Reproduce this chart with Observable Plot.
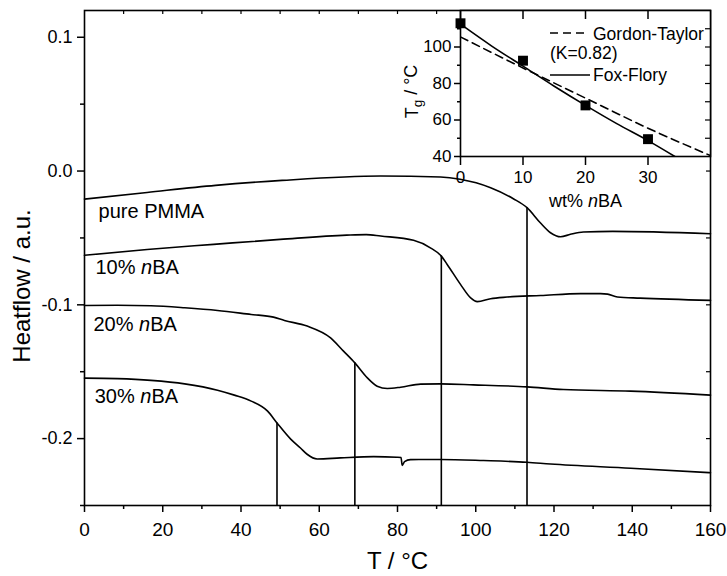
<!DOCTYPE html>
<html><head><meta charset="utf-8">
<script src="https://cdn.jsdelivr.net/npm/d3@7"></script>
<script src="https://cdn.jsdelivr.net/npm/@observablehq/plot@0.6"></script>
<style>
body{margin:0;background:#fff}
#wrap{position:relative;width:727px;height:576px;background:#fff}
#wrap svg{position:absolute;overflow:visible}
</style></head><body><div id="wrap"></div>
<script>
// ---------- main chart data (T in °C, heat flow in a.u.) ----------
const pmmaT = [0, 16, 33.5, 50.5, 75.7, 91, 96, 103.8, 109.6, 113.1, 116.5, 119.1, 121.7, 124.2, 127.5, 135, 160];
const pmmaH = [-0.021, -0.016, -0.0107, -0.007, -0.0037, -0.0045, -0.0062, -0.0125, -0.0207, -0.0274, -0.0387, -0.0461, -0.0491, -0.0473, -0.0456, -0.0451, -0.0469];

const nba10T = [0, 16, 33, 50, 67, 72, 75.7, 84.1, 88.4, 91.2, 92.7, 96.1, 98.7, 100.4, 103.8, 108, 116.6, 126.8, 131.9, 133.7, 136.2, 142, 160];
const nba10H = [-0.063, -0.0586, -0.0548, -0.0511, -0.0479, -0.0475, -0.0486, -0.0518, -0.0574, -0.0636, -0.0698, -0.0847, -0.0948, -0.0976, -0.0954, -0.0942, -0.093, -0.0916, -0.0916, -0.092, -0.0942, -0.095, -0.0967];

const nba20T = [0, 8.4, 17, 25.6, 34, 42.6, 48.3, 51.1, 56.9, 62.9, 66.2, 69.1, 72.3, 74.8, 77.4, 80.8, 85.9, 91, 99.4, 113.1, 122.4, 139.6, 160];
const nba20H = [-0.1005, -0.1003, -0.1007, -0.1022, -0.1042, -0.1072, -0.1092, -0.1117, -0.1159, -0.1247, -0.1346, -0.1434, -0.1546, -0.1608, -0.1625, -0.1616, -0.1593, -0.1591, -0.1598, -0.1613, -0.1633, -0.1645, -0.1675];

const nba30T = [0, 8.4, 17, 25.6, 34, 38.3, 42.6, 46.8, 49.2, 52.7, 55.2, 56.9, 59.5, 65.4, 73.9, 79.9, 80.9, 81.2, 81.8, 83.3, 91, 102, 113.1, 119.1, 139.6, 160];
const nba30H = [-0.1548, -0.1552, -0.1565, -0.1591, -0.1638, -0.1675, -0.172, -0.1795, -0.1883, -0.2004, -0.207, -0.2117, -0.2152, -0.2144, -0.2135, -0.2139, -0.2141, -0.22, -0.2172, -0.2157, -0.2156, -0.2164, -0.2177, -0.219, -0.2221, -0.2255];

const seriesNames = ["pure PMMA", "10% nBA", "20% nBA", "30% nBA"];
const labelT = [3.6, 2.8, 2.3, 2.6];
const labelH = [-0.030, -0.0725, -0.1147, -0.1687];

// glass transition markers
const tgT = [49.2, 69.1, 91.2, 113.1];
const tgTop = [-0.1883, -0.1434, -0.0636, -0.0274];

// ticks
const xMajor = [0, 20, 40, 60, 80, 100, 120, 140, 160];
const xMinor = [10, 30, 50, 70, 90, 110, 130, 150];
const xTop = [10, 20, 30, 40, 50, 60, 70, 80, 90, 100, 110, 120, 130, 140, 150];
const yMajor = [-0.2, -0.1, 0.0, 0.1];
const yMinor = [-0.25, -0.15, -0.05, 0.05];
const yRight = [-0.2, -0.15, -0.1, -0.05, 0.0, 0.05, 0.1];

// ---------- inset data (Tg vs wt% nBA) ----------
const expWt = [0, 10, 20, 30];
const expTg = [113, 92.5, 68, 49.5];
const ffWt = [0, 5, 10, 15, 20, 25, 30, 34.3];
const ffTg = [112.5, 100.5, 89.5, 78.5, 68, 58, 48.7, 40];
const gtWt = [0, 10, 20, 30, 40];
const gtTg = [105.5, 88.5, 72, 55.5, 40.5];
const insetXTicks = [0, 10, 20, 30];
const insetYTicks = [40, 60, 80, 100];
const insetYMinor = [50, 70, 90, 110];
const insetYRight = [50, 60, 70, 80, 90, 100, 110];

const FONT = "'Liberation Sans', Arial, Helvetica, sans-serif";
const W = 727, H = 576, ML = 84, MR = 17, MT = 10, MB = 71;
const yDom = [-0.25, 0.12];

const Ts = [pmmaT, nba10T, nba20T, nba30T];
const Hs = [pmmaH, nba10H, nba20H, nba30H];
const curveRows = seriesNames.flatMap((n, k) => Ts[k].map((t, i) => ({series: n, T: t, H: Hs[k][i]})));
const tgRows = tgT.map((t, i) => ({T: t, top: tgTop[i]}));
const labelRows = seriesNames.map((n, i) => ({text: n, T: labelT[i], H: labelH[i]}));

const main = Plot.plot({
  width: W, height: H,
  marginLeft: ML, marginRight: MR, marginTop: MT, marginBottom: MB,
  style: {fontFamily: FONT, fontSize: "18px", color: "#000", background: "transparent"},
  x: {domain: [0, 160]},
  y: {domain: yDom},
  marks: [
    Plot.axisX({ticks: xMajor, tickSize: 7, tickPadding: 10, tickFormat: d => String(d), label: null, fontSize: 19, strokeWidth: 1.5}),
    Plot.axisX({ticks: xMinor, tickSize: 4, tickFormat: () => "", label: null, strokeWidth: 1.5}),
    Plot.axisY({ticks: yMajor, tickSize: 7, tickPadding: 5, tickFormat: d => d.toFixed(1), label: null, fontSize: 18, strokeWidth: 1.5}),
    Plot.axisY({ticks: yMinor, tickSize: 4, tickFormat: () => "", label: null, strokeWidth: 1.5}),
    Plot.tickX(xTop, {x: d => d, insetBottom: (H - MT - MB) - 4, strokeWidth: 1.2}),
    Plot.tickY(yRight, {y: d => d, insetLeft: (W - ML - MR) - 4, strokeWidth: 1.2}),
    Plot.ruleX(tgRows, {x: "T", y1: () => yDom[0], y2: "top", stroke: "#000", strokeWidth: 1.6}),
    Plot.line(curveRows, {x: "T", y: "H", z: "series", curve: "monotone-x", stroke: "#000", strokeWidth: 1.6}),
    Plot.text(labelRows, {x: "T", y: "H", text: "text", textAnchor: "start", fontSize: 20}),
    Plot.text(["T / °C"], {frameAnchor: "bottom", dy: 63, fontSize: 24}),
    Plot.text(["Heatflow / a.u."], {frameAnchor: "left", textAnchor: "middle", rotate: -90, dx: -62, dy: 28, fontSize: 24}),
    Plot.frame({stroke: "#000", strokeWidth: 1.6})
  ]
});
main.style.left = "0px"; main.style.top = "0px";

const IW = 317, IH = 215, IML = 50, IMR = 17, IMT = 10, IMB = 59;
const expRows = expWt.map((w, i) => ({w, tg: expTg[i]}));
const ffRows = ffWt.map((w, i) => ({w, tg: ffTg[i]}));
const gtRows = gtWt.map((w, i) => ({w, tg: gtTg[i]}));

const inset = Plot.plot({
  width: IW, height: IH,
  marginLeft: IML, marginRight: IMR, marginTop: IMT, marginBottom: IMB,
  style: {fontFamily: FONT, fontSize: "17px", color: "#000", background: "transparent"},
  x: {domain: [0, 40]},
  y: {domain: [40, 120]},
  marks: [
    Plot.frame({fill: "#fff", stroke: "none"}),
    Plot.axisX({ticks: insetXTicks, tickSize: 9, tickPadding: 5, tickFormat: d => String(d), label: null, fontSize: 17, strokeWidth: 1.5}),
    Plot.axisY({ticks: insetYTicks, tickSize: 6, tickPadding: 3, tickFormat: d => String(d), label: null, fontSize: 17, strokeWidth: 1.5}),
    Plot.axisY({ticks: insetYMinor, tickSize: 3, tickFormat: () => "", label: null, strokeWidth: 1.5}),
    Plot.tickX(insetXTicks, {x: d => d, insetBottom: (IH - IMT - IMB) - 9, strokeWidth: 1.5}),
    Plot.tickY(insetYRight, {y: d => d, insetLeft: (IW - IML - IMR) - 5, strokeWidth: 1.2}),
    Plot.line(gtRows, {x: "w", y: "tg", curve: "monotone-x", stroke: "#000", strokeWidth: 1.6, strokeDasharray: "8,5", clip: true}),
    Plot.line(ffRows, {x: "w", y: "tg", curve: "monotone-x", stroke: "#000", strokeWidth: 1.6, clip: true}),
    Plot.dot(expRows, {x: "w", y: "tg", symbol: "square", r: 5.6, fill: "#000", stroke: "none"}),
    Plot.text(["wt% nBA"], {frameAnchor: "bottom", dy: 50, fontSize: 18}),
    Plot.text(["Tg / °C"], {frameAnchor: "left", textAnchor: "middle", rotate: -90, dx: -48, dy: 8, fontSize: 18}),
    Plot.frame({stroke: "#000", strokeWidth: 1.6})
  ]
});
inset.style.left = "410px"; inset.style.top = "0px";

// legend inside the inset
const lg = d3.select(inset).append("g").attr("font-family", FONT).attr("font-size", 17.5)
  .attr("fill", "#000").attr("text-anchor", "start");
lg.append("line").attr("x1", 140).attr("x2", 178).attr("y1", 33).attr("y2", 33)
  .attr("stroke", "#000").attr("stroke-width", 1.6).attr("stroke-dasharray", "8,5");
lg.append("text").attr("x", 183).attr("y", 40).text("Gordon-Taylor");
lg.append("text").attr("x", 140).attr("y", 59).text("(K=0.82)");
lg.append("line").attr("x1", 140).attr("x2", 180).attr("y1", 75).attr("y2", 75)
  .attr("stroke", "#000").attr("stroke-width", 1.6);
lg.append("text").attr("x", 183).attr("y", 81).text("Fox-Flory");

const wrap = document.getElementById("wrap");
wrap.appendChild(main);
wrap.appendChild(inset);

// rich text: italic n in nBA, subscript g in Tg
function richText(svg) {
  d3.select(svg).selectAll("text").each(function() {
    const t = this.textContent;
    const sel = d3.select(this);
    if (/nBA$/.test(t) && this.childElementCount === 0) {
      const pre = t.slice(0, t.length - 3);
      sel.text(null);
      sel.append("tspan").text(pre);
      sel.append("tspan").attr("font-style", "italic").text("n");
      sel.append("tspan").text("BA");
    } else if (t === "Tg / °C" && this.childElementCount === 0) {
      sel.text(null);
      sel.append("tspan").text("T");
      sel.append("tspan").attr("font-size", "75%").attr("dy", "0.3em").text("g");
      sel.append("tspan").attr("dy", "-0.3em").text(" / °C");
    }
  });
}
richText(main);
richText(inset);
</script></body></html>
